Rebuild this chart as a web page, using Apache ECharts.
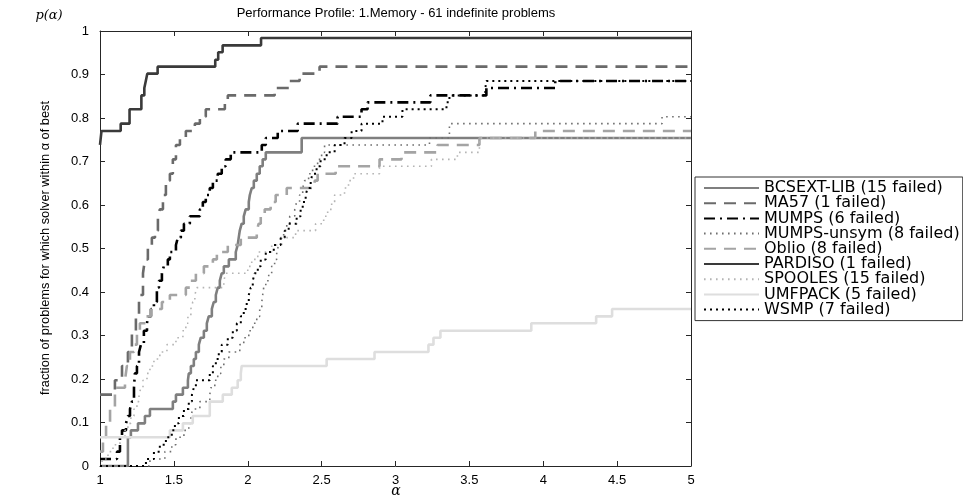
<!DOCTYPE html>
<html>
<head>
<meta charset="utf-8">
<script src="https://cdn.jsdelivr.net/npm/echarts@6/dist/echarts.min.js"></script>
<style>
html,body{margin:0;padding:0;background:#fff;}
#chart{width:963px;height:498px;}
</style>
</head>
<body>
<div id="chart"></div>
<script>
// ---- data (alpha = performance ratio, p = fraction of problems) ----
const xTicks = [1, 1.5, 2, 2.5, 3, 3.5, 4, 4.5, 5];
const yTicks = [0, 0.1, 0.2, 0.3, 0.4, 0.5, 0.6, 0.7, 0.8, 0.9, 1];

const bcsextAlpha = [1, 1.189, 1.209, 1.257, 1.304, 1.338, 1.493, 1.514, 1.561, 1.595, 1.601, 1.615, 1.635, 1.649, 1.669, 1.682, 1.703, 1.723, 1.736, 1.757, 1.770, 1.784, 1.797, 1.811, 1.824, 1.838, 1.872, 1.919, 1.932, 1.939, 1.946, 1.959, 1.973, 1.986, 2.007, 2.014, 2.027, 2.041, 2.061, 2.081, 2.101, 2.122, 2.365];
const bcsextP = [0, 0.066, 0.082, 0.098, 0.115, 0.131, 0.148, 0.164, 0.180, 0.197, 0.213, 0.230, 0.246, 0.262, 0.279, 0.295, 0.311, 0.328, 0.344, 0.361, 0.377, 0.393, 0.410, 0.426, 0.443, 0.459, 0.475, 0.492, 0.508, 0.525, 0.541, 0.557, 0.574, 0.590, 0.607, 0.623, 0.639, 0.656, 0.672, 0.689, 0.705, 0.721, 0.754];

const ma57Alpha = [1, 1.101, 1.149, 1.189, 1.216, 1.243, 1.264, 1.291, 1.304, 1.324, 1.351, 1.372, 1.392, 1.405, 1.426, 1.446, 1.473, 1.493, 1.514, 1.541, 1.581, 1.642, 1.676, 1.716, 1.845, 1.865, 2.182, 2.284, 2.351, 2.486];
const ma57P = [0.164, 0.197, 0.230, 0.262, 0.311, 0.344, 0.393, 0.443, 0.475, 0.508, 0.525, 0.541, 0.574, 0.590, 0.623, 0.656, 0.672, 0.705, 0.738, 0.754, 0.770, 0.787, 0.803, 0.820, 0.836, 0.852, 0.869, 0.885, 0.902, 0.918];

const mumpsAlpha = [1, 1.115, 1.135, 1.149, 1.176, 1.189, 1.203, 1.216, 1.230, 1.236, 1.250, 1.264, 1.277, 1.297, 1.318, 1.324, 1.345, 1.365, 1.385, 1.399, 1.419, 1.432, 1.459, 1.473, 1.514, 1.527, 1.547, 1.568, 1.608, 1.676, 1.696, 1.716, 1.743, 1.764, 1.797, 1.824, 1.851, 1.885, 2.095, 2.122, 2.203, 2.338, 2.608, 2.770, 2.811, 3.236, 3.615, 4.081];
const mumpsP = [0.016, 0.033, 0.066, 0.082, 0.098, 0.115, 0.131, 0.148, 0.180, 0.213, 0.230, 0.262, 0.279, 0.311, 0.328, 0.344, 0.361, 0.377, 0.410, 0.426, 0.443, 0.459, 0.475, 0.492, 0.508, 0.525, 0.541, 0.557, 0.574, 0.590, 0.607, 0.623, 0.639, 0.656, 0.672, 0.689, 0.705, 0.721, 0.738, 0.754, 0.770, 0.787, 0.803, 0.820, 0.836, 0.852, 0.869, 0.885];

const mumpsUnsymAlpha = [1, 1.338, 1.439, 1.486, 1.514, 1.568, 1.601, 1.615, 1.628, 1.676, 1.743, 1.750, 1.777, 1.797, 1.818, 1.838, 1.872, 1.946, 1.973, 2.007, 2.034, 2.061, 2.081, 2.095, 2.101, 2.108, 2.122, 2.142, 2.162, 2.182, 2.196, 2.209, 2.223, 2.243, 2.264, 2.284, 2.318, 2.331, 2.351, 2.372, 2.385, 2.412, 2.439, 2.473, 2.500, 2.520, 3.230, 3.365, 4.804];
const mumpsUnsymP = [0, 0.016, 0.033, 0.049, 0.066, 0.082, 0.098, 0.115, 0.131, 0.148, 0.164, 0.180, 0.197, 0.213, 0.230, 0.246, 0.262, 0.279, 0.295, 0.311, 0.328, 0.344, 0.361, 0.377, 0.393, 0.410, 0.426, 0.443, 0.459, 0.475, 0.492, 0.508, 0.525, 0.541, 0.557, 0.574, 0.590, 0.607, 0.623, 0.639, 0.656, 0.672, 0.689, 0.705, 0.721, 0.738, 0.754, 0.787, 0.803];

const oblioAlpha = [1, 1.020, 1.041, 1.068, 1.101, 1.169, 1.182, 1.203, 1.230, 1.250, 1.270, 1.311, 1.345, 1.419, 1.473, 1.581, 1.608, 1.649, 1.703, 1.764, 1.791, 1.865, 1.953, 2.061, 2.074, 2.088, 2.115, 2.155, 2.189, 2.264, 2.453, 2.473, 2.595, 2.892, 3.041, 3.284, 3.568, 3.946];
const oblioP = [0.033, 0.066, 0.098, 0.131, 0.180, 0.197, 0.230, 0.262, 0.279, 0.311, 0.328, 0.344, 0.361, 0.377, 0.393, 0.410, 0.426, 0.443, 0.459, 0.475, 0.492, 0.508, 0.525, 0.541, 0.557, 0.574, 0.590, 0.607, 0.623, 0.639, 0.656, 0.672, 0.689, 0.705, 0.721, 0.738, 0.754, 0.770];

const pardisoAlpha = [1, 1.01, 1.14, 1.20, 1.28, 1.30, 1.31, 1.32, 1.39, 1.78, 1.80, 1.83, 2.09];
const pardisoP = [0.738, 0.770, 0.787, 0.820, 0.852, 0.869, 0.885, 0.902, 0.918, 0.934, 0.951, 0.967, 0.984];

const spoolesAlpha = [1, 1.014, 1.054, 1.088, 1.135, 1.169, 1.189, 1.209, 1.230, 1.250, 1.264, 1.277, 1.291, 1.318, 1.338, 1.365, 1.405, 1.453, 1.514, 1.561, 1.581, 1.595, 1.615, 1.628, 1.642, 1.655, 1.838, 1.851, 2.000, 2.027, 2.068, 2.162, 2.230, 2.324, 2.459, 2.514, 2.541, 2.568, 2.588, 2.655, 2.682, 2.716, 2.892, 3.243, 3.419, 3.568];
const spoolesP = [0, 0.016, 0.033, 0.049, 0.066, 0.082, 0.098, 0.115, 0.131, 0.148, 0.164, 0.180, 0.197, 0.213, 0.230, 0.246, 0.262, 0.279, 0.295, 0.311, 0.328, 0.344, 0.361, 0.377, 0.393, 0.410, 0.426, 0.443, 0.459, 0.475, 0.492, 0.508, 0.525, 0.541, 0.557, 0.574, 0.590, 0.607, 0.623, 0.639, 0.656, 0.672, 0.689, 0.705, 0.721, 0.754];

const umfpackAlpha = [1, 1.473, 1.561, 1.628, 1.743, 1.831, 1.892, 1.932, 1.953, 1.959, 2.534, 2.858, 3.223, 3.257, 3.304, 3.919, 4.358, 4.466];
const umfpackP = [0.066, 0.082, 0.098, 0.115, 0.148, 0.164, 0.180, 0.197, 0.213, 0.230, 0.246, 0.262, 0.279, 0.295, 0.311, 0.328, 0.344, 0.361];

const wsmpAlpha = [1, 1.311, 1.365, 1.405, 1.446, 1.486, 1.507, 1.534, 1.568, 1.601, 1.622, 1.635, 1.649, 1.743, 1.764, 1.784, 1.804, 1.824, 1.865, 1.899, 1.926, 1.953, 1.973, 1.993, 2.007, 2.020, 2.034, 2.047, 2.068, 2.088, 2.122, 2.176, 2.223, 2.250, 2.277, 2.331, 2.358, 2.372, 2.392, 2.405, 2.426, 2.439, 2.466, 2.493, 2.534, 2.588, 2.655, 2.703, 2.770, 2.912, 3.047, 3.345, 3.365, 3.608, 3.615];
const wsmpP = [0, 0.016, 0.033, 0.049, 0.066, 0.082, 0.098, 0.115, 0.131, 0.148, 0.164, 0.180, 0.197, 0.213, 0.230, 0.246, 0.262, 0.279, 0.295, 0.311, 0.328, 0.344, 0.361, 0.377, 0.393, 0.410, 0.426, 0.443, 0.459, 0.475, 0.492, 0.508, 0.525, 0.541, 0.557, 0.574, 0.590, 0.607, 0.623, 0.639, 0.656, 0.672, 0.689, 0.705, 0.721, 0.738, 0.754, 0.770, 0.787, 0.803, 0.820, 0.836, 0.852, 0.869, 0.885];

const solverNames = ['BCSEXT-LIB (15 failed)', 'MA57 (1 failed)', 'MUMPS (6 failed)', 'MUMPS-unsym (8 failed)', 'Oblio (8 failed)', 'PARDISO (1 failed)', 'SPOOLES (15 failed)', 'UMFPACK (5 failed)', 'WSMP (7 failed)'];
const titleText = 'Performance Profile: 1.Memory - 61 indefinite problems';
const yAxisTitle = 'fraction of problems for which solver within \u03b1 of best';

// ---- chart ----
const X_MIN = xTicks[0], X_MAX = xTicks[xTicks.length - 1];
function profile(a, p) {
  const d = a.map((x, i) => [x, p[i]]);
  d.push([X_MAX, p[p.length - 1]]);
  return d;
}
const curves = [
  [bcsextAlpha, bcsextP, {color: '#7f7f7f', width: 2.6, type: 'solid'}],
  [ma57Alpha, ma57P, {color: '#6a6a6a', width: 2.6, type: [12, 8]}],
  [mumpsAlpha, mumpsP, {color: '#000000', width: 2.6, type: [11, 5, 2, 5]}],
  [mumpsUnsymAlpha, mumpsUnsymP, {color: '#707070', width: 1.6, type: [1.6, 4.4]}],
  [oblioAlpha, oblioP, {color: '#a4a4a4', width: 2.6, type: [12, 8]}],
  [pardisoAlpha, pardisoP, {color: '#3a3a3a', width: 2.6, type: 'solid'}],
  [spoolesAlpha, spoolesP, {color: '#b4b4b4', width: 1.6, type: [1.6, 4.4]}],
  [umfpackAlpha, umfpackP, {color: '#dedede', width: 2.6, type: 'solid'}],
  [wsmpAlpha, wsmpP, {color: '#000000', width: 2, type: [2, 4]}]
];
const series = curves.map((c, i) => ({
  name: solverNames[i],
  type: 'line',
  step: 'end',
  symbol: 'none',
  showSymbol: false,
  xAxisIndex: 0,
  yAxisIndex: 0,
  data: profile(c[0], c[1]),
  lineStyle: c[2],
  itemStyle: {color: c[2].color},
  animation: false,
  silent: true,
  clip: true
}));

const axisColor = '#262626';
const chart = echarts.init(document.getElementById('chart'), null, {renderer: 'canvas'});
chart.setOption({
  backgroundColor: '#ffffff',
  animation: false,
  grid: {left: 100, right: 272, top: 31, bottom: 32, containLabel: false},
  xAxis: [
    {type: 'value', min: X_MIN, max: X_MAX, interval: 0.5, position: 'bottom',
     axisLine: {show: true, onZero: false, lineStyle: {color: axisColor, width: 1}},
     axisTick: {show: true, inside: true, length: 5, lineStyle: {color: axisColor}},
     axisLabel: {margin: 8, color: '#000', fontSize: 13, fontFamily: 'Liberation Sans'},
     splitLine: {show: false}},
    {type: 'value', min: X_MIN, max: X_MAX, interval: 0.5, position: 'top',
     axisLine: {show: true, onZero: false, lineStyle: {color: axisColor, width: 1}},
     axisTick: {show: true, inside: true, length: 5, lineStyle: {color: axisColor}},
     axisLabel: {show: false}, splitLine: {show: false}}
  ],
  yAxis: [
    {type: 'value', min: yTicks[0], max: yTicks[yTicks.length - 1], interval: 0.1, position: 'left',
     axisLine: {show: true, onZero: false, lineStyle: {color: axisColor, width: 1}},
     axisTick: {show: true, inside: true, length: 5, lineStyle: {color: axisColor}},
     axisLabel: {margin: 11, color: '#000', fontSize: 13, fontFamily: 'Liberation Sans'},
     splitLine: {show: false}},
    {type: 'value', min: yTicks[0], max: yTicks[yTicks.length - 1], interval: 0.1, position: 'right',
     axisLine: {show: true, onZero: false, lineStyle: {color: axisColor, width: 1}},
     axisTick: {show: true, inside: true, length: 5, lineStyle: {color: axisColor}},
     axisLabel: {show: false}, splitLine: {show: false}}
  ],
  legend: {
    orient: 'vertical', left: 695, top: 177,
    itemWidth: 55, itemHeight: 12, itemGap: -0.8,
    padding: [3, 3, 3, 8],
    borderColor: '#333', borderWidth: 1, backgroundColor: '#fff',
    itemStyle: {color: 'rgba(0,0,0,0)', borderColor: 'rgba(0,0,0,0)', borderWidth: 0, opacity: 0},
    textStyle: {fontSize: 16, fontFamily: 'DejaVu Sans', color: '#000', lineHeight: 14},
    data: solverNames
  },
  graphic: [
    {type: 'text', x: 396, y: 13, style: {text: titleText, fill: '#000', font: '13px "Liberation Sans"', align: 'center', verticalAlign: 'middle', textAlign: 'center', textVerticalAlign: 'middle'}},
    {type: 'text', x: 49, y: 16, style: {text: 'p(\u03b1)', fill: '#000', font: 'italic 13px "DejaVu Serif"', align: 'center', verticalAlign: 'middle', textAlign: 'center', textVerticalAlign: 'middle'}},
    {type: 'text', x: 396, y: 491, style: {text: '\u03b1', fill: '#000', font: 'italic 14px "DejaVu Serif"', align: 'center', verticalAlign: 'middle', textAlign: 'center', textVerticalAlign: 'middle'}},
    {type: 'text', x: 45, y: 248, rotation: Math.PI / 2, style: {text: yAxisTitle, fill: '#000', font: '12.8px "Liberation Sans"', align: 'center', verticalAlign: 'middle', textAlign: 'center', textVerticalAlign: 'middle'}}
  ],
  series: series
});
</script>
</body>
</html>
